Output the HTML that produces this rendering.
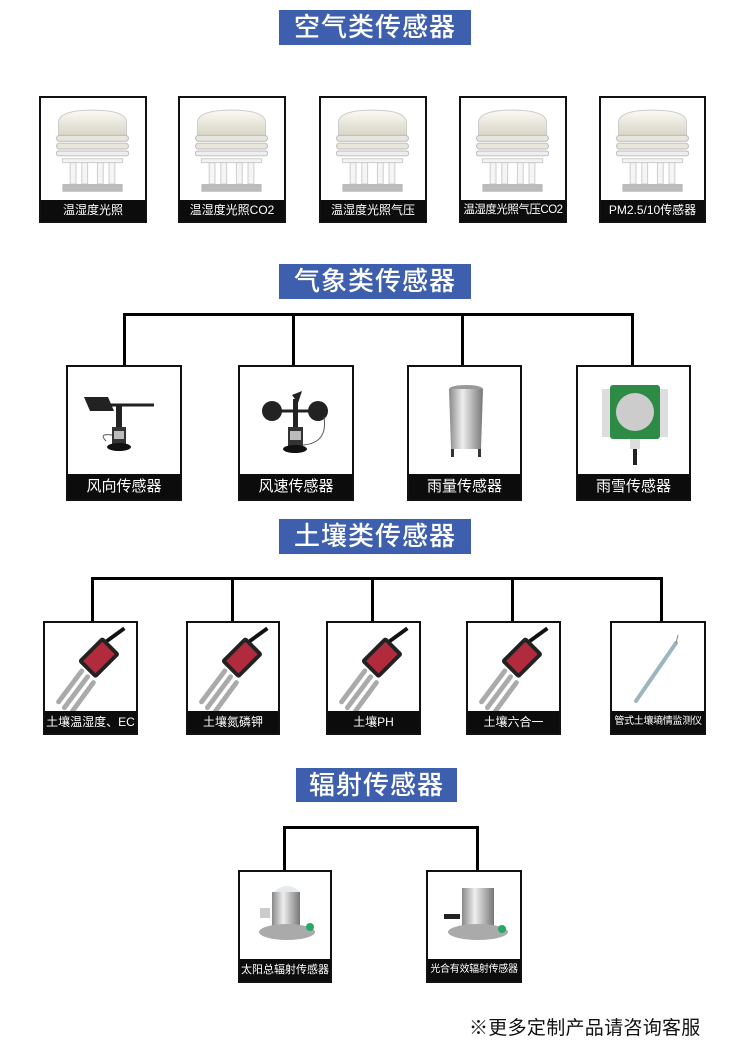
<!DOCTYPE html>
<html><head><meta charset="utf-8">
<style>
*{margin:0;padding:0;box-sizing:border-box}
body{width:750px;height:1040px;background:#fff;position:relative;overflow:hidden;font-family:"Liberation Sans","Noto Sans CJK SC",sans-serif}
.t{position:absolute;background:#3d5fae;color:#fff;font-size:26px;font-weight:500;text-align:center;letter-spacing:1px}
.b{position:absolute;border:2px solid #111;background:#fff;overflow:hidden}
.b .l{position:absolute;left:0;right:0;bottom:0;background:#0c0c0c;color:#fff;text-align:center;white-space:nowrap}
.b svg{position:absolute;left:0;top:0}
.h{position:absolute;background:#000}
</style></head><body>
<svg width="0" height="0" style="position:absolute">
<defs>
<linearGradient id="wg" x1="0" x2="0" y1="0" y2="1"><stop offset="0" stop-color="#fbfaf3"/><stop offset="1" stop-color="#d8d5c8"/></linearGradient>
<linearGradient id="sg" x1="0" x2="1"><stop offset="0" stop-color="#888"/><stop offset=".4" stop-color="#eee"/><stop offset="1" stop-color="#777"/></linearGradient>
<symbol id="air" viewBox="0 0 107 105">
<path d="M18 25 Q18 12 53 12 Q88 12 88 25 L88 38 L18 38Z" fill="url(#wg)" stroke="#ccc"/>
<rect x="16" y="38" width="74" height="6" rx="3" fill="#e8e6dc" stroke="#bbb"/>
<rect x="16" y="46" width="74" height="6" rx="3" fill="#e8e6dc" stroke="#bbb"/>
<rect x="16" y="54" width="74" height="5" rx="2" fill="#eee" stroke="#bbb"/>
<rect x="22" y="62" width="62" height="4" fill="#f3f3f3" stroke="#ccc"/>
<rect x="30" y="66" width="6" height="22" fill="#f5f5f5" stroke="#ccc"/>
<rect x="42" y="66" width="6" height="22" fill="#f5f5f5" stroke="#ccc"/>
<rect x="58" y="66" width="6" height="22" fill="#f5f5f5" stroke="#ccc"/>
<rect x="70" y="66" width="6" height="22" fill="#f5f5f5" stroke="#ccc"/>
<rect x="22" y="88" width="62" height="8" fill="#bbb"/>
</symbol>
<symbol id="soil" viewBox="0 0 94 90">
<path d="M60 20 L82 4" stroke="#111" stroke-width="4"/>
<g transform="rotate(-45 55 35)"><rect x="38" y="22" width="36" height="26" rx="3" fill="#222"/><rect x="42" y="26" width="28" height="18" fill="#b22b3c"/></g>
<path d="M38 48 L14 80 M44 54 L20 86 M50 60 L28 90" stroke="#aaa" stroke-width="5" stroke-linecap="round"/>
</symbol>
</defs></svg>

<div class="t" style="left:279px;top:10px;width:192px;height:35px;line-height:35px">空气类传感器</div>
<div class="t" style="left:279px;top:264px;width:192px;height:35px;line-height:35px">气象类传感器</div>
<div class="t" style="left:279px;top:519px;width:192px;height:35px;line-height:35px">土壤类传感器</div>
<div class="t" style="left:296px;top:768px;width:161px;height:34px;line-height:34px">辐射传感器</div>

<!-- air -->
<div class="b" style="left:39px;top:96px;width:108px;height:127px"><svg width="104" height="103" viewBox="0 0 107 105"><use href="#air"/></svg><div class="l" style="height:21px;line-height:21px;font-size:12px">温湿度光照</div></div>
<div class="b" style="left:178px;top:96px;width:108px;height:127px"><svg width="104" height="103" viewBox="0 0 107 105"><use href="#air"/></svg><div class="l" style="height:21px;line-height:21px;font-size:12px">温湿度光照CO2</div></div>
<div class="b" style="left:319px;top:96px;width:108px;height:127px"><svg width="104" height="103" viewBox="0 0 107 105"><use href="#air"/></svg><div class="l" style="height:21px;line-height:21px;font-size:12px">温湿度光照气压</div></div>
<div class="b" style="left:459px;top:96px;width:108px;height:127px"><svg width="104" height="103" viewBox="0 0 107 105"><use href="#air"/></svg><div class="l" style="height:21px;line-height:21px;font-size:11.5px;letter-spacing:-0.5px">温湿度光照气压CO2</div></div>
<div class="b" style="left:599px;top:96px;width:107px;height:127px"><svg width="104" height="103" viewBox="0 0 107 105"><use href="#air"/></svg><div class="l" style="height:21px;line-height:21px;font-size:12px">PM2.5/10传感器</div></div>

<!-- weather tree -->
<div class="h" style="left:123px;top:313px;width:511px;height:3px"></div>
<div class="h" style="left:123px;top:313px;width:3px;height:53px"></div>
<div class="h" style="left:292px;top:313px;width:3px;height:53px"></div>
<div class="h" style="left:461px;top:313px;width:3px;height:53px"></div>
<div class="h" style="left:631px;top:313px;width:3px;height:53px"></div>

<div class="b" style="left:66px;top:365px;width:116px;height:136px">
<svg width="112" height="110"><path d="M16 30 L40 30 L46 44 L22 44Z" fill="#222"/><path d="M40 38 L86 38" stroke="#222" stroke-width="3"/><rect x="48" y="38" width="6" height="24" fill="#222"/><rect x="44" y="60" width="14" height="18" fill="#333"/><rect x="46" y="64" width="10" height="8" fill="#bbb"/><ellipse cx="51" cy="80" rx="12" ry="4" fill="#111"/><path d="M44 68 Q30 66 38 74" stroke="#555" fill="none"/></svg>
<div class="l" style="height:25px;line-height:25px;font-size:15px">风向传感器</div></div>
<div class="b" style="left:238px;top:365px;width:116px;height:136px">
<svg width="112" height="110"><circle cx="32" cy="44" r="10" fill="#222"/><circle cx="78" cy="44" r="10" fill="#222"/><path d="M52 28 L62 24 L58 36Z" fill="#222"/><path d="M32 44 L78 44" stroke="#222" stroke-width="3"/><rect x="53" y="32" width="5" height="30" fill="#222"/><rect x="48" y="60" width="15" height="20" fill="#333"/><rect x="50" y="64" width="11" height="9" fill="#bbb"/><ellipse cx="55" cy="82" rx="12" ry="4" fill="#111"/><path d="M63 78 Q88 76 84 50" stroke="#555" fill="none"/></svg>
<div class="l" style="height:25px;line-height:25px;font-size:15px">风速传感器</div></div>
<div class="b" style="left:407px;top:365px;width:115px;height:136px">
<svg width="112" height="110"><ellipse cx="57" cy="22" rx="17" ry="4" fill="#999"/><path d="M40 22 L74 22 L72 82 L42 82Z" fill="url(#sg)"/><rect x="42" y="82" width="3" height="8" fill="#333"/><rect x="69" y="82" width="3" height="8" fill="#333"/></svg>
<div class="l" style="height:25px;line-height:25px;font-size:15px">雨量传感器</div></div>
<div class="b" style="left:576px;top:365px;width:115px;height:136px">
<svg width="112" height="110"><rect x="24" y="22" width="66" height="48" fill="#ddd"/><rect x="32" y="18" width="50" height="54" rx="3" fill="#2e8b45"/><circle cx="57" cy="45" r="19" fill="#ccc"/><rect x="52" y="72" width="10" height="10" fill="#ddd"/><rect x="55" y="82" width="4" height="16" fill="#222"/></svg>
<div class="l" style="height:25px;line-height:25px;font-size:15px">雨雪传感器</div></div>

<!-- soil tree -->
<div class="h" style="left:91px;top:577px;width:572px;height:3px"></div>
<div class="h" style="left:91px;top:577px;width:3px;height:45px"></div>
<div class="h" style="left:231px;top:577px;width:3px;height:45px"></div>
<div class="h" style="left:371px;top:577px;width:3px;height:45px"></div>
<div class="h" style="left:511px;top:577px;width:3px;height:45px"></div>
<div class="h" style="left:660px;top:577px;width:3px;height:45px"></div>

<div class="b" style="left:43px;top:621px;width:95px;height:114px"><svg width="91" height="90"><use href="#soil"/></svg><div class="l" style="height:22px;line-height:22px;font-size:12px">土壤温湿度、EC</div></div>
<div class="b" style="left:186px;top:621px;width:94px;height:114px"><svg width="91" height="90"><use href="#soil"/></svg><div class="l" style="height:22px;line-height:22px;font-size:12px">土壤氮磷钾</div></div>
<div class="b" style="left:326px;top:621px;width:95px;height:114px"><svg width="91" height="90"><use href="#soil"/></svg><div class="l" style="height:22px;line-height:22px;font-size:12px">土壤PH</div></div>
<div class="b" style="left:466px;top:621px;width:95px;height:114px"><svg width="91" height="90"><use href="#soil"/></svg><div class="l" style="height:22px;line-height:22px;font-size:12px">土壤六合一</div></div>
<div class="b" style="left:610px;top:621px;width:96px;height:114px"><svg width="92" height="90"><path d="M64 20 L24 78" stroke="#9cb6bf" stroke-width="4" stroke-linecap="round"/><path d="M64 20 L66 12" stroke="#888"/></svg><div class="l" style="height:22px;line-height:22px;font-size:10px;letter-spacing:-0.3px">管式土壤墒情监测仪</div></div>

<!-- radiation -->
<div class="h" style="left:283px;top:826px;width:196px;height:3px"></div>
<div class="h" style="left:283px;top:826px;width:3px;height:45px"></div>
<div class="h" style="left:476px;top:826px;width:3px;height:45px"></div>

<div class="b" style="left:238px;top:870px;width:94px;height:113px"><svg width="90" height="90"><path d="M34 20 Q47 8 60 20Z" fill="#e4eaee"/><rect x="32" y="20" width="28" height="34" fill="url(#sg)"/><ellipse cx="47" cy="60" rx="28" ry="8" fill="#aaa"/><rect x="20" y="36" width="10" height="10" fill="#ccc"/><circle cx="70" cy="55" r="4" fill="#2a6"/></svg><div class="l" style="height:22px;line-height:22px;font-size:11px">太阳总辐射传感器</div></div>
<div class="b" style="left:426px;top:870px;width:96px;height:113px"><svg width="92" height="90"><rect x="34" y="16" width="32" height="40" fill="url(#sg)"/><ellipse cx="50" cy="60" rx="30" ry="8" fill="#aaa"/><rect x="16" y="42" width="16" height="5" fill="#222"/><circle cx="74" cy="57" r="4" fill="#2a6"/></svg><div class="l" style="height:22px;line-height:22px;font-size:10px;letter-spacing:-0.3px">光合有效辐射传感器</div></div>

<div style="position:absolute;left:469px;top:1013px;font-size:19px;color:#111;white-space:nowrap;letter-spacing:0.3px">※更多定制产品请咨询客服</div>
</body></html>
